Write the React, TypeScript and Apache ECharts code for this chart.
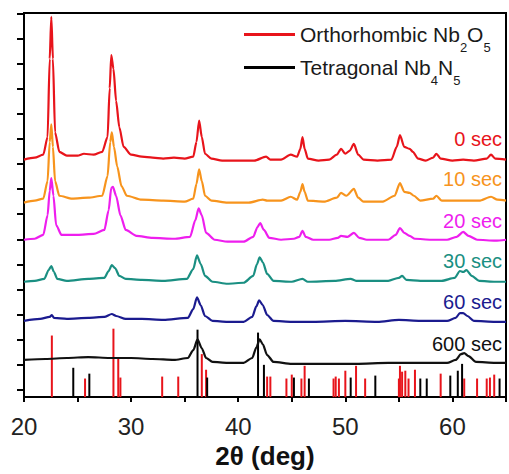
import React, { useEffect, useRef } from "react";
import * as echarts from "echarts";

type Pt = [number, number];

// 2θ (deg) vs intensity (a.u., offset-stacked as in the figure)
const S_0: Pt[] = [
  [20.0, 243], [21.0, 245], [21.8, 248], [22.2, 266], [22.4, 346], [22.55, 389], [22.7, 346], [22.9, 271],
  [23.3, 251], [24.0, 247], [25.0, 247], [25.6, 249], [26.5, 248], [27.3, 251], [27.8, 266], [28.0, 316],
  [28.15, 350], [28.35, 336], [28.6, 303], [28.9, 276], [29.3, 256], [30.0, 248], [31.0, 246], [32.0, 245],
  [33.0, 244], [34.0, 245], [35.0, 244], [35.8, 246], [36.1, 261], [36.35, 283], [36.6, 266], [36.9, 249],
  [37.5, 244], [38.5, 242], [40.0, 242], [41.5, 242], [42.6, 246], [43.0, 243], [44.0, 243], [44.9, 248],
  [45.5, 246], [45.8, 254], [46.0, 266], [46.2, 254], [46.5, 244], [47.5, 242], [48.5, 243], [49.2, 248],
  [49.6, 254], [50.0, 249], [50.4, 252], [50.8, 259], [51.2, 248], [51.7, 243], [53.0, 242], [54.3, 243],
  [54.8, 256], [55.1, 268], [55.5, 256], [56.0, 254], [56.3, 251], [56.8, 244], [57.5, 242], [58.2, 245],
  [58.5, 249], [58.9, 244], [60.0, 242], [61.0, 243], [62.0, 242], [63.2, 244], [63.6, 248], [64.0, 244],
  [65.0, 243],
];
const S_10: Pt[] = [
  [20.0, 199], [21.0, 201], [21.8, 203], [22.2, 221], [22.4, 261], [22.55, 279], [22.7, 256], [22.9, 221],
  [23.3, 206], [24.5, 203], [26.0, 204], [27.3, 206], [27.8, 226], [28.05, 261], [28.2, 271], [28.4, 256],
  [28.7, 236], [29.1, 216], [29.6, 206], [31.0, 202], [33.0, 201], [35.0, 200], [35.8, 203], [36.1, 218],
  [36.35, 233], [36.6, 221], [36.9, 206], [37.5, 201], [39.0, 199], [41.0, 199], [42.3, 202], [42.7, 201],
  [44.0, 201], [44.9, 205], [45.5, 202], [45.8, 210], [46.0, 218], [46.2, 210], [46.5, 201], [48.0, 200],
  [49.2, 204], [49.6, 209], [50.1, 206], [50.8, 213], [51.2, 204], [51.7, 200], [53.5, 200], [54.6, 206],
  [55.1, 219], [55.5, 210], [56.0, 209], [56.4, 206], [57.0, 201], [58.2, 203], [58.5, 206], [59.0, 201],
  [61.0, 201], [62.5, 201], [63.6, 205], [64.2, 202], [65.0, 201],
];
const S_20: Pt[] = [
  [20.0, 161], [21.0, 162], [21.8, 166], [22.2, 186], [22.4, 211], [22.55, 224], [22.75, 206], [23.0, 176],
  [23.5, 166], [25.0, 166], [26.5, 167], [27.5, 171], [27.9, 191], [28.15, 214], [28.3, 215], [28.6, 206],
  [29.0, 186], [29.5, 171], [30.5, 165], [32.0, 163], [34.0, 162], [35.5, 164], [36.0, 181], [36.3, 193],
  [36.6, 186], [37.0, 168], [37.8, 161], [39.0, 159], [40.5, 159], [41.4, 164], [41.8, 174], [42.05, 178],
  [42.4, 171], [42.9, 163], [44.0, 161], [45.2, 162], [45.7, 164], [46.0, 170], [46.3, 164], [47.0, 161],
  [48.5, 161], [49.3, 163], [49.6, 165], [50.2, 164], [50.8, 168], [51.3, 163], [52.0, 161], [54.0, 161],
  [54.7, 166], [55.1, 173], [55.5, 168], [56.0, 165], [56.5, 162], [58.0, 161], [59.5, 161], [60.4, 164],
  [61.0, 169], [61.5, 165], [62.3, 161], [64.0, 160], [65.0, 161],
];
const S_30: Pt[] = [
  [20.0, 118], [21.0, 119], [21.9, 121], [22.3, 130], [22.55, 134], [22.8, 128], [23.1, 121], [24.0, 119],
  [26.0, 121], [27.5, 122], [27.9, 129], [28.2, 135], [28.5, 132], [28.9, 124], [29.5, 121], [31.0, 120],
  [33.0, 119], [35.2, 121], [35.8, 131], [36.15, 145], [36.5, 136], [36.9, 124], [37.6, 118], [39.0, 116],
  [40.5, 117], [41.4, 124], [41.75, 136], [42.0, 143], [42.3, 138], [42.7, 126], [43.3, 119], [45.0, 118],
  [46.0, 121], [46.5, 118], [49.0, 119], [50.5, 121], [51.0, 119], [54.0, 119], [55.0, 122], [55.3, 124],
  [55.7, 120], [57.0, 119], [59.0, 119], [60.2, 122], [60.7, 129], [61.0, 128], [61.3, 130], [61.8, 124],
  [62.5, 119], [64.0, 118], [65.0, 118],
];
const S_60: Pt[] = [
  [20.0, 78], [21.5, 80], [22.4, 82], [22.6, 84], [22.8, 81], [24.0, 80], [26.0, 81], [27.5, 82],
  [28.2, 85], [28.6, 83], [29.5, 80], [31.0, 80], [33.0, 79], [35.3, 81], [35.8, 90], [36.15, 102],
  [36.5, 94], [36.9, 83], [37.6, 78], [39.0, 77], [40.5, 77], [41.3, 82], [41.7, 93], [41.95, 99],
  [42.3, 94], [42.7, 84], [43.3, 78], [45.0, 77], [47.0, 77], [50.0, 78], [53.0, 77], [55.0, 79],
  [57.0, 78], [59.5, 78], [60.3, 81], [60.7, 86], [61.0, 86], [61.4, 83], [62.0, 78], [64.0, 77],
  [65.0, 77],
];
const S_600: Pt[] = [
  [20.0, 38], [22.0, 39], [24.0, 40], [26.0, 41], [28.0, 40], [30.0, 40], [32.0, 39], [34.0, 38],
  [35.3, 40], [35.8, 48], [36.2, 59], [36.6, 50], [37.0, 40], [37.6, 36], [39.0, 35], [40.5, 35],
  [41.3, 40], [41.7, 51], [42.0, 59], [42.3, 54], [42.7, 43], [43.3, 36], [45.0, 34], [48.0, 34],
  [51.0, 34], [54.0, 35], [57.0, 35], [59.5, 35], [60.3, 38], [60.8, 44], [61.1, 45], [61.5, 42],
  [62.2, 36], [64.0, 35], [65.0, 35],
];

// reference patterns (stick positions, relative heights)
const NB2O5_STICKS: Pt[] = [
  [22.6, 63], [25.7, 19], [28.35, 70], [28.8, 39], [29.0, 20], [32.9, 21], [34.4, 21], [36.6, 44],
  [37.0, 28], [42.7, 21], [43.0, 21], [44.5, 19], [45.0, 23], [45.9, 19], [46.2, 32], [48.9, 19],
  [49.1, 21], [49.4, 19], [50.0, 27], [51.0, 32], [51.85, 19], [55.0, 19], [55.1, 32], [55.3, 26],
  [55.6, 27], [55.9, 19], [56.5, 28], [58.9, 24], [61.1, 19], [62.3, 19], [63.2, 19], [63.5, 20],
  [63.9, 23],
];
const NB4N5_STICKS: Pt[] = [
  [24.6, 30], [26.1, 24], [36.2, 69], [37.1, 20], [41.85, 66], [42.4, 33], [45.2, 20], [46.6, 19],
  [50.5, 20], [52.8, 22], [57.0, 19], [57.6, 19], [59.8, 22], [60.5, 27], [60.9, 34], [64.4, 19],
];

const SERIES_NAMES = ["0 sec", "10 sec", "20 sec", "30 sec", "60 sec", "600 sec"];
const SERIES_DATA = [S_0, S_10, S_20, S_30, S_60, S_600];
const REF_NAMES = ["Orthorhombic Nb2O5", "Tetragonal Nb4N5"];
const X_LABELS = [20, 30, 40, 50, 60];
const Y_TICKS = [7.2, 32.9, 58.6, 84.3, 110, 135.7, 161.4, 187.1, 212.8, 238.5, 264.2, 289.9, 315.6, 341.3, 367, 392.7];

// styling / layout
const COLORS = ["#e8141b", "#f7941d", "#ee1eee", "#1a8f82", "#1b1b8f", "#111111"];
const LABEL_TOPS = [140, 180, 222, 262, 303, 345];
const FONT = "'Liberation Sans', Arial, Helvetica, sans-serif";

export default function App() {
  const ref = useRef<HTMLDivElement>(null);
  useEffect(() => {
    if (!ref.current) return;
    const chart = echarts.init(ref.current, undefined, { renderer: "svg" });
    const lineSeries = SERIES_DATA.map((d, i) => ({
      name: SERIES_NAMES[i],
      type: "line",
      data: d,
      showSymbol: false,
      symbol: "none",
      smooth: 0.25,
      smoothMonotone: "x",
      lineStyle: { color: COLORS[i], width: 2.2 },
      itemStyle: { color: COLORS[i] },
      z: 3,
    }));
    const stickSeries = [NB2O5_STICKS, NB4N5_STICKS].map((d, i) => ({
      name: REF_NAMES[i],
      type: "bar",
      data: d,
      barWidth: 2,
      barGap: "-100%",
      itemStyle: { color: i === 0 ? "#e8141b" : "#000000" },
      z: 2,
    }));
    chart.setOption({
      animation: false,
      textStyle: { fontFamily: FONT },
      grid: {
        left: 24, top: 13, width: 488, height: 393,
        show: true, borderColor: "#000", borderWidth: 2, backgroundColor: "transparent",
      },
      legend: {
        data: REF_NAMES,
        orient: "vertical",
        left: 244,
        top: 24,
        padding: 0,
        itemGap: 3,
        itemWidth: 51,
        itemHeight: 3,
        icon: "rect",
        selectedMode: false,
        formatter: (n: string) =>
          n === REF_NAMES[0]
            ? "{m|Orthorhombic Nb}{s|2}{m|O}{s|5}"
            : "{m|Tetragonal Nb}{s|4}{m|N}{s|5}",
        textStyle: {
          fontFamily: FONT,
          color: "#1a1a1a",
          fontSize: 21,
          rich: {
            m: { fontSize: 21, color: "#1a1a1a", fontFamily: FONT },
            s: { fontSize: 13, color: "#1a1a1a", fontFamily: FONT, padding: [26, 0, 0, 0] },
          },
        },
      },
      xAxis: {
        type: "value",
        min: 20,
        max: 65,
        interval: 5,
        axisLine: { show: true, lineStyle: { color: "#000", width: 2 } },
        axisTick: { show: true, length: 5, lineStyle: { color: "#000", width: 2 } },
        splitLine: { show: false },
        axisLabel: {
          fontSize: 24,
          color: "#222",
          margin: 17,
          fontFamily: FONT,
          formatter: (v: number) => (X_LABELS.indexOf(v) >= 0 ? String(v) : ""),
        },
        name: "2θ (deg)",
        nameLocation: "middle",
        nameGap: 41,
        nameTextStyle: { fontSize: 26, fontWeight: "bold", color: "#111", fontFamily: FONT },
      },
      yAxis: {
        type: "value",
        min: 0,
        max: 393,
        axisLine: { show: true, lineStyle: { color: "#000", width: 2 } },
        axisTick: { show: true, customValues: Y_TICKS, length: 7, lineStyle: { color: "#000", width: 2 } },
        axisLabel: { show: false },
        splitLine: { show: false },
      },
      graphic: SERIES_NAMES.map((n, i) => ({
        type: "text",
        right: 7,
        top: LABEL_TOPS[i] - 11,
        style: { text: n, fill: COLORS[i], fontSize: 20, fontFamily: FONT },
      })),
      series: [...stickSeries, ...lineSeries],
    });
    return () => chart.dispose();
  }, []);
  return <div ref={ref} style={{ position: "absolute", left: 0, top: 0, width: 509, height: 474 }} />;
}
